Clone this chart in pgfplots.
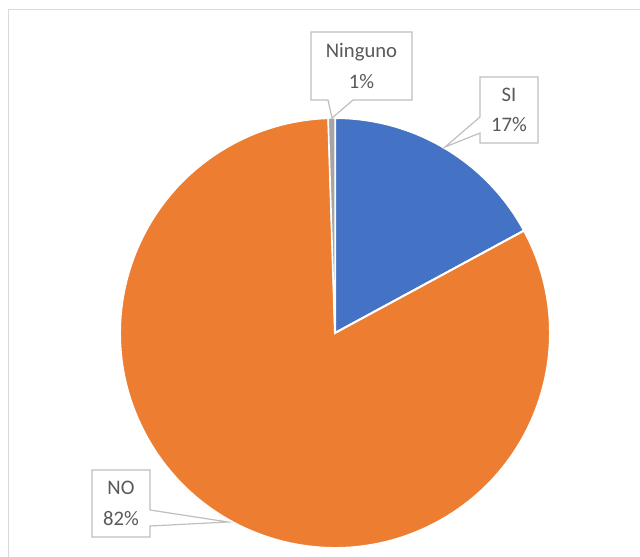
\documentclass[border=0pt]{standalone}
\usepackage{pgfplots}
\pgfplotsset{compat=1.18}
\usepackage{pgfplotstable}
\usepackage{fontspec}
\setmainfont{Carlito}

\definecolor{siblue}{HTML}{4472C4}
\definecolor{noorange}{HTML}{ED7D31}
\definecolor{ningray}{HTML}{A5A5A5}
\definecolor{labgray}{HTML}{595959}
\definecolor{boxgray}{HTML}{BFBFBF}
\definecolor{framegray}{HTML}{D9D9D9}

% share of answers (percent)
\pgfplotstableread{
label   value
SI      17.1
NO      82.4
Ninguno 0.5
}\piedata

\begin{document}
\begin{tikzpicture}
\pgfplotstablegetelem{0}{value}\of\piedata \let\vSI\pgfplotsretval
\pgfplotstablegetelem{1}{value}\of\piedata \let\vNO\pgfplotsretval
\pgfplotstablegetelem{2}{value}\of\piedata \let\vNin\pgfplotsretval
% start at 12 o'clock, go clockwise
\pgfmathsetmacro\aA{90}
\pgfmathsetmacro\aB{\aA-3.6*\vSI}
\pgfmathsetmacro\aC{\aB-3.6*\vNO}
\pgfmathsetmacro\aD{\aC-3.6*\vNin}
\def\R{161.25pt}
\begin{axis}[
  scale only axis,
  width=480pt, height=417.75pt,
  xmin=0, xmax=640, ymin=0, ymax=557,
  y dir=reverse,
  hide axis,
  clip=false,
]
% chart area frame
\draw[framegray, line width=1pt] (axis cs:8.5,560) -- (axis cs:8.5,9.5) -- (axis cs:645,9.5);
% slices
\fill[siblue, draw=white, line width=1.5pt] (axis cs:335,333) -- ++(\aA:\R)
  arc[start angle=\aA, end angle=\aB, radius=\R] -- cycle;
\fill[noorange, draw=white, line width=1.5pt] (axis cs:335,333) -- ++(\aB:\R)
  arc[start angle=\aB, end angle=\aC, radius=\R] -- cycle;
\fill[ningray, draw=white, line width=1pt] (axis cs:335,333) -- ++(\aC:\R)
  arc[start angle=\aC, end angle=\aD, radius=\R] -- cycle;
% callouts
\filldraw[fill=white, draw=boxgray, line width=0.9pt]
  (axis cs:311,32) -- (axis cs:412,32) -- (axis cs:412,100) -- (axis cs:353,100)
  -- (axis cs:332,118) -- (axis cs:328,100) -- (axis cs:311,100) -- cycle;
\filldraw[fill=white, draw=boxgray, line width=0.9pt]
  (axis cs:480,77) -- (axis cs:538,77) -- (axis cs:538,143) -- (axis cs:480,143)
  -- (axis cs:480,133) -- (axis cs:445,147) -- (axis cs:480,117) -- cycle;
\filldraw[fill=white, draw=boxgray, line width=0.9pt]
  (axis cs:92,470) -- (axis cs:150,470) -- (axis cs:150,510) -- (axis cs:228,522)
  -- (axis cs:150,526) -- (axis cs:150,537) -- (axis cs:92,537) -- cycle;
\tikzset{lab/.style={text=labgray, font=\fontsize{15.5}{23}\selectfont, align=center}}
\node[lab] at (axis cs:361.5,66) {Ninguno\\1\%};
\node[lab] at (axis cs:509,110) {SI\\17\%};
\node[lab] at (axis cs:121,503.5) {NO\\82\%};
\end{axis}
\pgfresetboundingbox
\path[use as bounding box] (0,0) rectangle (480pt,417.75pt);
\end{tikzpicture}
\end{document}
